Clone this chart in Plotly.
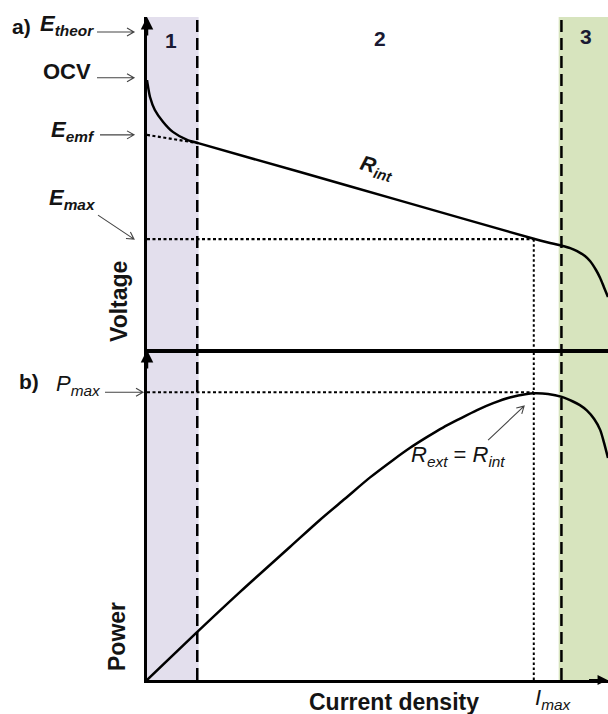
import math
import plotly.graph_objects as go

# current density positions (arbitrary units, axis runs 0..10)
j_region1_end = 1.12
j_region1_line = 1.09
j_region3_start = 8.93
j_region3_line = 8.99
j_imax = 8.39

# characteristic levels (arbitrary units, each panel runs 0..10)
e_theor = 9.55
ocv = 8.17
e_emf = 6.45
e_max = 3.31
p_max = 8.72

# polarization curve (panel a)
volt_j = [0, 0.02, 0.065, 0.17, 0.35, 0.56, 0.87, 1.11, 3.32, 5.49, 8.39,
          8.70, 9.00, 9.18, 9.33, 9.50, 9.61, 9.74, 9.83, 9.91, 10.0]
volt_v = [8.10, 7.92, 7.59, 7.20, 6.84, 6.54, 6.30, 6.20, 5.33, 4.47, 3.32,
          3.21, 3.11, 3.04, 2.95, 2.80, 2.65, 2.38, 2.14, 1.87, 1.57]

# extrapolation of the ohmic line back to zero current
emf_j = [0, 1.11]
emf_v = [e_emf, 6.20]

# power curve (panel b)
pow_j = [0, 1.04, 2.02, 3.10, 3.75, 4.30, 4.84, 5.34, 5.70, 6.07, 6.42, 6.79, 7.16,
         7.51, 7.87, 8.24, 8.39, 8.70, 9.00, 9.24, 9.39, 9.54, 9.70, 9.83, 9.91, 10.0]
pow_p = [0, 1.39, 2.67, 4.03, 4.85, 5.50, 6.14, 6.67, 7.03, 7.36, 7.65, 7.92, 8.18,
         8.39, 8.56, 8.67, 8.69, 8.67, 8.58, 8.44, 8.33, 8.17, 7.91, 7.58, 7.21, 6.73]

FONT = "Liberation Sans, Arial, sans-serif"
INK = "#141414"

# plot area in page pixels: x 147..608, y 17..680
L, T, W, H = 147, 17, 461, 663


def px(x):
    return (x - L) / W


def py(y):
    return (T + H - y) / H


fig = go.Figure()

fig.add_trace(go.Scatter(x=volt_j, y=volt_v, xaxis="x2", yaxis="y", mode="lines",
                         line=dict(color="black", width=2.5, shape="spline", smoothing=0.6)))
fig.add_trace(go.Scatter(x=emf_j, y=emf_v, xaxis="x2", yaxis="y", mode="lines",
                         line=dict(color="black", width=2.2, dash="3px,2.5px")))
fig.add_trace(go.Scatter(x=[0, j_imax], y=[e_max, e_max], xaxis="x2", yaxis="y", mode="lines",
                         line=dict(color="black", width=2.2, dash="3px,2.5px")))
fig.add_trace(go.Scatter(x=[j_imax, j_imax], y=[e_max, 0], xaxis="x2", yaxis="y", mode="lines",
                         line=dict(color="black", width=2, dash="2.5px,2.5px")))

fig.add_trace(go.Scatter(x=pow_j, y=pow_p, xaxis="x", yaxis="y2", mode="lines",
                         line=dict(color="black", width=2.5, shape="spline", smoothing=0.8)))
fig.add_trace(go.Scatter(x=[0, j_imax], y=[p_max, p_max], xaxis="x", yaxis="y2", mode="lines",
                         line=dict(color="black", width=2.2, dash="3px,2.5px")))
fig.add_trace(go.Scatter(x=[j_imax, j_imax], y=[0, 10], xaxis="x", yaxis="y2", mode="lines",
                         line=dict(color="black", width=2, dash="2.5px,2.5px")))

# shaded regions 1 and 3, spanning both panels
fig.add_shape(type="rect", xref="x", yref="paper", x0=0, x1=j_region1_end, y0=0, y1=1,
              fillcolor="#e3dfed", line_width=0, layer="below")
fig.add_shape(type="rect", xref="x", yref="paper", x0=j_region3_start, x1=10, y0=0, y1=1,
              fillcolor="#d7e4be", line_width=0, layer="below")
for xl in [j_region1_line, j_region3_line]:
    fig.add_shape(type="line", xref="x", yref="paper", x0=xl, x1=xl, y0=0, y1=1,
                  line=dict(color="black", width=2.5, dash="12px,6px"))


def chevron(xref, x, yref, y, dx, dy):
    # thin arrow whose tip is at (x, y); tail offset dx, dy in screen pixels
    n = math.hypot(dx, dy)
    ux, uy = -dx / n, -dy / n
    hx, hy = -7 * ux, -7 * uy
    wx, wy = -uy * 4, ux * 4
    pts = [(dx, dy), (0, 0), (hx + wx, hy + wy), (0, 0), (hx - wx, hy - wy)]
    path = "M{},{} L{},{} M{},{} L{},{} L{},{}".format(
        *[v for p in pts for v in (p[0], -p[1])])
    fig.add_shape(type="path", xref=xref, yref=yref, xsizemode="pixel", ysizemode="pixel",
                  xanchor=x, yanchor=y, path=path, line=dict(color="#444444", width=1.1))


chevron("paper", px(134), "y", e_theor, -37, 0)
chevron("paper", px(134), "y", ocv, -37, 0)
chevron("paper", px(134), "y", e_emf, -34, 0)
chevron("paper", px(134), "y", e_max, -36, -24)
chevron("paper", px(143), "y2", p_max, -38, 0)
chevron("x", 8.18, "y2", 8.3, -36, 34)

# axis arrowheads
for yref in ["y", "y2"]:
    fig.add_annotation(x=0, y=10, xref="x", yref=yref, text="", showarrow=True,
                       ax=0, ay=20, arrowhead=2, arrowsize=1, arrowwidth=2.5, arrowcolor="black")
fig.add_annotation(x=9.99, y=0, xref="x", yref="y2", text="", showarrow=True,
                   ax=-20, ay=0, arrowhead=2, arrowsize=1, arrowwidth=2, arrowcolor="black")


def label(text, x, y, size=22, xanchor="center", angle=0, xref="paper", yref="paper", color=INK):
    fig.add_annotation(x=x, y=y, xref=xref, yref=yref, text=text, showarrow=False,
                       xanchor=xanchor, yanchor="middle", textangle=angle,
                       font=dict(family=FONT, size=size, color=color))


label("<b>a)</b>", px(10), py(27), size=21, xanchor="left")
label("<b><i>E</i></b><sub><b><i>theor</i></b></sub>", px(96), py(25), size=22, xanchor="right")
label("<b>OCV</b>", px(93), py(71), size=22, xanchor="right")
label("<b><i>E</i></b><sub><b><i>emf</i></b></sub>", px(97), py(131), size=22, xanchor="right")
label("<b><i>E</i></b><sub><b><i>max</i></b></sub>", px(98), py(199), size=22, xanchor="right")
label("<b>b)</b>", px(17), py(381), size=21, xanchor="left")
label("<i>P</i><sub><i>max</i></sub>", px(103), py(385), size=22, xanchor="right")
label("<b>Voltage</b>", px(119), py(302), size=23, angle=-90)
label("<b>Power</b>", px(117), py(637), size=23, angle=-90)
label("<b>Current density</b>", px(394), py(702), size=23)
label("<i>I</i><sub><i>max</i></sub>", px(553), py(699), size=22)
label("<b>1</b>", px(171), py(41), size=21, color="#1a1a33")
label("<b>2</b>", px(380), py(38), size=21, color="#1a1a33")
label("<b>3</b>", px(586), py(36), size=21, color="#1a1a33")
label("<b><i>R</i></b><sub><b><i>int</i></b></sub>", 4.99, 5.45, size=21,
      xref="x2", yref="y", angle=16)
label("<i>R</i><sub><i>ext</i></sub> = <i>R</i><sub><i>int</i></sub>", 6.75, 6.78, size=22,
      xref="x", yref="y2")

axis_common = dict(showgrid=False, zeroline=False, showticklabels=False, ticks="",
                   showline=True, linecolor="black")
fig.update_layout(
    width=608, height=714,
    margin=dict(l=L, r=0, t=T, b=714 - T - H),
    paper_bgcolor="white", plot_bgcolor="rgba(0,0,0,0)",
    showlegend=False,
    xaxis=dict(range=[0, 10], anchor="y2", linewidth=2.5, **axis_common),
    xaxis2=dict(range=[0, 10], anchor="y", matches="x", linewidth=4, **axis_common),
    yaxis=dict(range=[0, 10], domain=[0.4992, 1], anchor="x2", linewidth=2.5, **axis_common),
    yaxis2=dict(range=[0, 10], domain=[0, 0.4977], anchor="x", linewidth=2.5, **axis_common),
)

# drop the default page margin so the 608x714 figure fills the window exactly
fig.write_html("out.html", config={"displayModeBar": False},
               post_script="document.body.style.margin = '0';")
